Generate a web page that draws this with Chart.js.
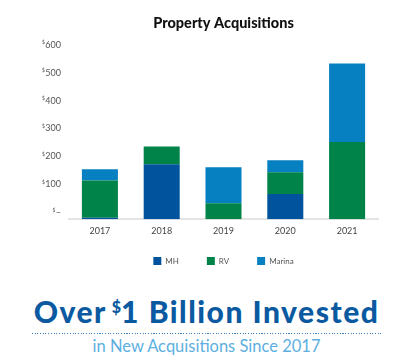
<!DOCTYPE html>
<html>
<head>
<meta charset="utf-8">
<script src="https://cdn.jsdelivr.net/npm/chart.js@4"></script>
<style>
  html, body { margin: 0; padding: 0; background: #fff; }
  #wrap { position: relative; width: 398px; height: 364px; overflow: hidden; font-family: Lato, sans-serif; }
  #chartBox { position: absolute; left: 0; top: 0; width: 398px; height: 275px; }
  #headline {
    position: absolute; left: 0; top: 293px; width: 413px; text-align: center;
    font-size: 30px; font-weight: 900; color: #0b5aa1; line-height: 36px; white-space: nowrap;
    letter-spacing: 1.5px;
  }
  #headline sup { font-size: 16px; vertical-align: 0; position: relative; top: -10px; margin-left: 5px; margin-right: 0; letter-spacing: 0; }
  #dots {
    position: absolute; left: 32px; top: 333px; width: 350px; height: 1px;
    background: repeating-linear-gradient(to right, #3a80c6 0 1px, transparent 1px 2.7px);
  }
  #sub {
    position: absolute; left: 0; top: 336px; width: 413px; text-align: center;
    font-size: 16.5px; color: #5cafe0; line-height: 20px; white-space: nowrap;
  }
</style>
</head>
<body>
<div id="wrap">
  <div id="chartBox"><canvas id="chart"></canvas></div>
  <div id="headline">Over<sup>$</sup>1 Billion Invested</div>
  <div id="dots"></div>
  <div id="sub">in New Acquisitions Since 2017</div>
</div>
<script>
// Property acquisitions, $ millions, stacked by segment
const years = ['2017', '2018', '2019', '2020', '2021'];
const mhValues = [5, 197, 0, 90, 0];
const rvValues = [134, 64, 57, 78, 277];
const marinaValues = [40, 0, 129, 43, 281];

const COLORS = { mh: '#00539c', rv: '#008349', marina: '#0780c1' };
const LEGEND_PULL = 13; // px the legend sits closer to the year labels

// y labels sit a few px above their tick in the original, with a small raised "$"
const yLabelsPlugin = {
  id: 'yLabels',
  afterLayout(chart) {
    // x axis was shrunk in afterFit to pull the legend up; give its labels
    // their clip room back so they aren't cut off
    const xs = chart.scales.x;
    xs.bottom += LEGEND_PULL;
    xs.height += LEGEND_PULL;
  },
  afterDraw(chart) {
    const scale = chart.scales.y;
    const ctx = chart.ctx;
    const x = chart.chartArea.left - 8;
    ctx.save();
    ctx.fillStyle = '#555';
    ctx.textBaseline = 'middle';
    ctx.textAlign = 'right';
    for (const tick of scale.ticks) {
      const y = scale.getPixelForValue(tick.value) - 7;
      const num = tick.value === 0 ? '\u2013' : String(tick.value);
      ctx.font = '9px Lato';
      ctx.fillText(num, x, y);
      const w = ctx.measureText(num).width;
      ctx.font = '5px Lato';
      ctx.fillText('$', x - w - 0.5, y - 2);
    }
    ctx.restore();
  },
};

new Chart(document.getElementById('chart'), {
  type: 'bar',
  data: {
    labels: years,
    datasets: [
      { label: 'MH', data: mhValues, backgroundColor: COLORS.mh },
      { label: 'RV', data: rvValues, backgroundColor: COLORS.rv },
      { label: 'Marina', data: marinaValues, backgroundColor: COLORS.marina },
    ],
  },
  options: {
    animation: false,
    responsive: true,
    maintainAspectRatio: false,
    datasets: { bar: { categoryPercentage: 1, barPercentage: 0.583, borderWidth: 0 } },
    layout: { padding: { left: 69, right: 20, top: 0, bottom: 0 } },
    plugins: {
      tooltip: { enabled: false },
      title: {
        display: true,
        text: 'Property Acquisitions',
        color: '#111',
        font: { family: 'Lato', size: 14.5, weight: 900 },
        padding: { top: 14.4, bottom: 20 },
      },
      legend: {
        position: 'bottom',
        labels: {
          boxWidth: 8,
          boxHeight: 8,
          padding: 28,
          color: '#555',
          font: { family: 'Lato', size: 8 },
        },
      },
    },
    scales: {
      x: {
        stacked: true,
        grid: { display: false, drawTicks: false },
        border: { display: true, color: '#e4e4e4', width: 2 },
        ticks: { color: '#444', font: { family: 'Lato', size: 9 }, padding: 6 },
        afterFit: (scale) => { scale.height -= LEGEND_PULL; },
      },
      y: {
        stacked: true,
        min: 0,
        max: 600,
        grid: { display: false, drawTicks: false },
        border: { display: false },
        ticks: { display: false, stepSize: 100 },
        afterFit: (scale) => { scale.width = 0; },
      },
    },
  },
  plugins: [yLabelsPlugin],
});
</script>
</body>
</html>
